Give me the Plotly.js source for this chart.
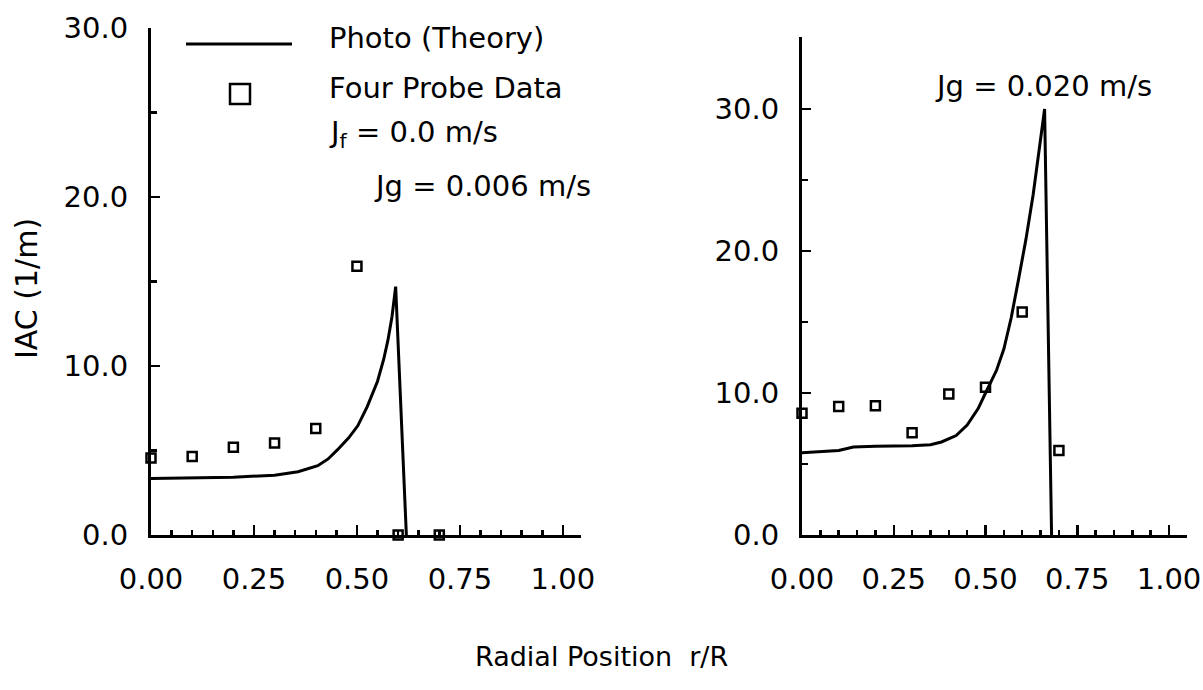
<!DOCTYPE html>
<html>
<head>
<meta charset="utf-8">
<script src="https://cdn.plot.ly/plotly-3.0.1.min.js"></script>
<style>html,body{margin:0;padding:0;background:#fff;}#chart{width:1203px;height:690px;}</style>
</head>
<body>
<div id="chart"></div>
<script>
// Probe measurement radial positions
const probeX = [0, 0.1, 0.2, 0.3, 0.4, 0.5, 0.6, 0.7];
// Left panel: Jg = 0.006 m/s
const leftProbeY = [4.55, 4.65, 5.19, 5.45, 6.3, 15.9, 0, 0];
const leftTheoryX = [0, 0.1, 0.2, 0.3, 0.357, 0.405, 0.43, 0.453, 0.48, 0.502, 0.525, 0.55, 0.565, 0.575, 0.585, 0.594, 0.62];
const leftTheoryY = [3.35, 3.38, 3.42, 3.54, 3.74, 4.1, 4.5, 5.05, 5.75, 6.46, 7.6, 9.1, 10.4, 11.5, 12.9, 14.7, 0];
// Right panel: Jg = 0.020 m/s
const rightProbeY = [8.57, 9.05, 9.1, 7.2, 9.93, 10.4, 15.7, 5.95];
const rightTheoryX = [0, 0.05, 0.1, 0.14, 0.2, 0.3, 0.35, 0.38, 0.42, 0.45, 0.48, 0.5, 0.53, 0.55, 0.57, 0.59, 0.61, 0.63, 0.645, 0.661, 0.68];
const rightTheoryY = [5.8, 5.85, 5.95, 6.2, 6.25, 6.28, 6.36, 6.55, 7.0, 7.74, 8.9, 10.0, 11.6, 13.1, 15.3, 18.0, 20.8, 24.0, 26.8, 30.0, 0];

const W = 1203, H = 690;
const px = v => v / W;
const py = v => 1 - v / H;
const FONT = 'DejaVu Sans';

const lineStyle = {color: 'black', width: 3};
const markerStyle = {symbol: 'square-open', size: 9, color: 'black', line: {color: 'black', width: 2.5}};

const traces = [
  {x: leftTheoryX, y: leftTheoryY, mode: 'lines', line: lineStyle, xaxis: 'x', yaxis: 'y', cliponaxis: false, showlegend: false},
  {x: probeX, y: leftProbeY, mode: 'markers', marker: markerStyle, xaxis: 'x', yaxis: 'y', cliponaxis: false, showlegend: false},
  {x: rightTheoryX, y: rightTheoryY, mode: 'lines', line: lineStyle, xaxis: 'x2', yaxis: 'y2', cliponaxis: false, showlegend: false},
  {x: probeX, y: rightProbeY, mode: 'markers', marker: markerStyle, xaxis: 'x2', yaxis: 'y2', cliponaxis: false, showlegend: false}
];

function xAxis(domain, range, anchor) {
  return {
    domain: domain, range: range, anchor: anchor,
    showgrid: false, zeroline: false, showline: true, linecolor: 'black', linewidth: 3,
    ticks: 'inside', ticklen: 10, tickwidth: 2.5, tickcolor: 'black',
    tick0: 0, dtick: 0.25, tickformat: '.2f',
    minor: {ticks: 'inside', dtick: 0.05, ticklen: 5, tickwidth: 2.5, tickcolor: 'black'},
    ticklabelstandoff: 16,
    tickfont: {family: FONT, size: 29, color: 'black'}
  };
}
function yAxis(domain, range, anchor) {
  return {
    domain: domain, range: range, anchor: anchor,
    showgrid: false, zeroline: false, showline: true, linecolor: 'black', linewidth: 3,
    ticks: 'inside', ticklen: 9, tickwidth: 2.5, tickcolor: 'black',
    tick0: 0, dtick: 10, tickformat: '.1f',
    minor: {ticks: 'inside', dtick: 5, ticklen: 6, tickwidth: 2.5, tickcolor: 'black'},
    ticklabelstandoff: 14,
    tickfont: {family: FONT, size: 29, color: 'black'}
  };
}

const annFont = {family: FONT, size: 29, color: 'black'};
const layout = {
  width: W, height: H,
  margin: {l: 0, r: 0, t: 0, b: 0},
  paper_bgcolor: 'white', plot_bgcolor: 'white',
  showlegend: false,
  xaxis: xAxis([px(151), px(581)], [0, 1.044], 'y'),
  yaxis: yAxis([py(535), py(28)], [0, 30], 'x'),
  xaxis2: xAxis([px(802), px(1187)], [0, 1.049], 'y2'),
  yaxis2: yAxis([py(535), py(37)], [0, 35.07], 'x2'),
  shapes: [
    {type: 'line', xref: 'paper', yref: 'paper', x0: px(186), x1: px(292), y0: py(44), y1: py(44), line: {color: 'black', width: 3}},
    {type: 'rect', xref: 'paper', yref: 'paper', x0: px(230), x1: px(250), y0: py(104), y1: py(84), line: {color: 'black', width: 2.5}}
  ],
  annotations: [
    {text: 'Photo (Theory)', xref: 'paper', yref: 'paper', x: px(327), y: py(38), xanchor: 'left', yanchor: 'middle', showarrow: false, font: annFont},
    {text: 'Four Probe Data', xref: 'paper', yref: 'paper', x: px(327), y: py(88), xanchor: 'left', yanchor: 'middle', showarrow: false, font: annFont},
    {text: 'J<sub>f</sub> = 0.0 m/s', xref: 'paper', yref: 'paper', x: px(327), y: py(134), xanchor: 'left', yanchor: 'middle', showarrow: false, font: annFont},
    {text: 'Jg = 0.006 m/s', xref: 'paper', yref: 'paper', x: px(372), y: py(186), xanchor: 'left', yanchor: 'middle', showarrow: false, font: annFont},
    {text: 'Jg = 0.020 m/s', xref: 'paper', yref: 'paper', x: px(933), y: py(86), xanchor: 'left', yanchor: 'middle', showarrow: false, font: annFont},
    {text: 'IAC (1/m)', xref: 'paper', yref: 'paper', x: px(27), y: py(289), xanchor: 'center', yanchor: 'middle', textangle: -90, showarrow: false, font: {family: FONT, size: 30, color: 'black'}},
    {text: 'Radial Position  r/R', xref: 'paper', yref: 'paper', x: px(601), y: py(656), xanchor: 'center', yanchor: 'middle', showarrow: false, font: {family: FONT, size: 27, color: 'black'}}
  ]
};

Plotly.newPlot('chart', traces, layout, {displayModeBar: false, staticPlot: true});
</script>
</body>
</html>
